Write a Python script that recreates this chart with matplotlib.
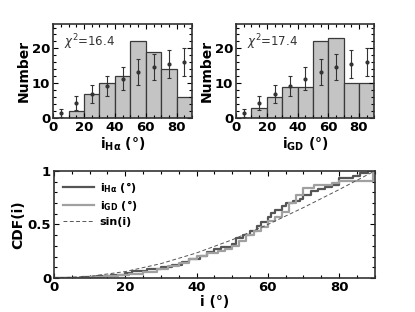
import matplotlib
matplotlib.use("Agg")
import matplotlib.pyplot as plt
from matplotlib.ticker import MultipleLocator

# histogram data (bin centres, counts)
bin_centres = [5, 15, 25, 35, 45, 55, 65, 75, 85]
counts_ha = [0, 2, 7, 10, 12, 22, 19, 14, 6]
counts_gd = [0, 3, 6, 9, 9, 22, 23, 10, 10]
# expected counts for sin(i) and their errors
expected = [1.5, 4.2, 6.8, 9.2, 11.3, 13.2, 14.6, 15.5, 16.0]
expected_err = [1.2, 2.0, 2.6, 3.0, 3.4, 3.7, 3.8, 3.9, 4.0]
chi2_ha = "16.4"
chi2_gd = "17.4"

# cumulative distributions
cdf_ha_x = [0, 8, 12, 16, 20, 22, 26, 30, 33, 36, 38, 41, 43, 45, 47, 50, 51, 53, 55, 57, 58,
            60, 61, 62, 64, 65, 67, 69, 70, 72, 74, 76, 78, 80, 84, 86, 88, 90]
cdf_ha_y = [0, 0.01, 0.02, 0.03, 0.05, 0.065, 0.08, 0.10, 0.12, 0.15, 0.18, 0.21, 0.24, 0.27, 0.29,
            0.32, 0.37, 0.40, 0.44, 0.49, 0.52, 0.57, 0.61, 0.64, 0.67, 0.70, 0.72, 0.74, 0.78,
            0.81, 0.83, 0.85, 0.87, 0.93, 0.95, 0.98, 1.0, 1.0]
cdf_gd_x = [0, 10, 14, 18, 21, 25, 29, 32, 35, 38, 40, 43, 46, 48, 50, 52, 54, 56, 58, 60, 62,
            64, 66, 68, 70, 73, 78, 80, 89.5, 90]
cdf_gd_y = [0, 0.01, 0.02, 0.03, 0.04, 0.06, 0.08, 0.11, 0.14, 0.18, 0.21, 0.23, 0.25, 0.27, 0.30,
            0.35, 0.40, 0.44, 0.48, 0.53, 0.57, 0.62, 0.70, 0.78, 0.84, 0.87, 0.89, 0.91, 1.0, 1.0]
sin_x = [0, 10, 20, 30, 40, 50, 60, 70, 80, 90]
sin_y = [0, 0.015, 0.06, 0.134, 0.234, 0.357, 0.5, 0.658, 0.826, 1.0]

plt.rcParams['font.family'] = 'DejaVu Sans'
plt.rcParams['font.size'] = 9

fig = plt.figure(figsize=(4.15, 3.12), dpi=100)
ax1 = fig.add_axes([0.128, 0.622, 0.335, 0.301])
ax2 = fig.add_axes([0.569, 0.622, 0.333, 0.301])
ax3 = fig.add_axes([0.130, 0.109, 0.773, 0.343])


def style(ax):
    ax.tick_params(which='both', direction='in', top=True, right=True, width=0.8)
    ax.tick_params(which='major', length=3.5, labelsize=9.5, pad=2)
    ax.tick_params(which='minor', length=2)
    for s in ax.spines.values():
        s.set_linewidth(1.2)
        s.set_color('#333333')
    for lab in ax.get_xticklabels() + ax.get_yticklabels():
        lab.set_fontweight('bold')


for ax, counts, chi, xl in [(ax1, counts_ha, chi2_ha, r'$\mathbf{i_{H\alpha}}$ (°)'),
                            (ax2, counts_gd, chi2_gd, r'$\mathbf{i_{GD}}$ (°)')]:
    ax.bar(bin_centres, counts, width=10, color='#c4c4c4', edgecolor='#3a3a3a', linewidth=0.9)
    ax.errorbar(bin_centres, expected, yerr=expected_err, fmt='o', ms=2, color='#333333',
                elinewidth=0.8, capsize=1.5, capthick=0.8)
    ax.set_xlim(0, 90)
    ax.set_ylim(0, 27)
    ax.xaxis.set_major_locator(MultipleLocator(20))
    ax.xaxis.set_minor_locator(MultipleLocator(5))
    ax.yaxis.set_major_locator(MultipleLocator(10))
    ax.yaxis.set_minor_locator(MultipleLocator(2))
    ax.text(7, 20.6, r'$\chi^2$=' + chi, fontsize=8.5, color='#333333')
    ax.set_ylabel('Number', fontweight='bold', fontsize=10, labelpad=1)
    ax.set_xlabel(xl, fontweight='bold', fontsize=10, labelpad=1)
    style(ax)

ax3.step(cdf_ha_x, cdf_ha_y, where='post', color='#555555', lw=1.6, label=r'$\mathbf{i_{H\alpha}}$ (°)')
ax3.step(cdf_gd_x, cdf_gd_y, where='post', color='#a0a0a0', lw=1.6, label=r'$\mathbf{i_{GD}}$ (°)')
ax3.plot(sin_x, sin_y, '--', color='#555555', lw=0.7, dashes=(4, 2.5), label='sin(i)')
ax3.set_xlim(0, 90)
ax3.set_ylim(0, 1)
ax3.xaxis.set_major_locator(MultipleLocator(20))
ax3.xaxis.set_minor_locator(MultipleLocator(5))
ax3.yaxis.set_major_locator(MultipleLocator(0.5))
ax3.yaxis.set_minor_locator(MultipleLocator(0.1))
ax3.yaxis.set_major_formatter(plt.FuncFormatter(lambda v, p: '%g' % v))
ax3.set_xlabel('i (°)', fontweight='bold', fontsize=10, labelpad=1)
ax3.set_ylabel('CDF(i)', fontweight='bold', fontsize=10, labelpad=2)
leg = ax3.legend(loc='upper left', frameon=False, handlelength=2.8, fontsize=8,
                 borderaxespad=0.4, labelspacing=0.3, handletextpad=0.5)
for t in leg.get_texts():
    t.set_fontweight('bold')
style(ax3)

fig.savefig('out.png', dpi=100)
